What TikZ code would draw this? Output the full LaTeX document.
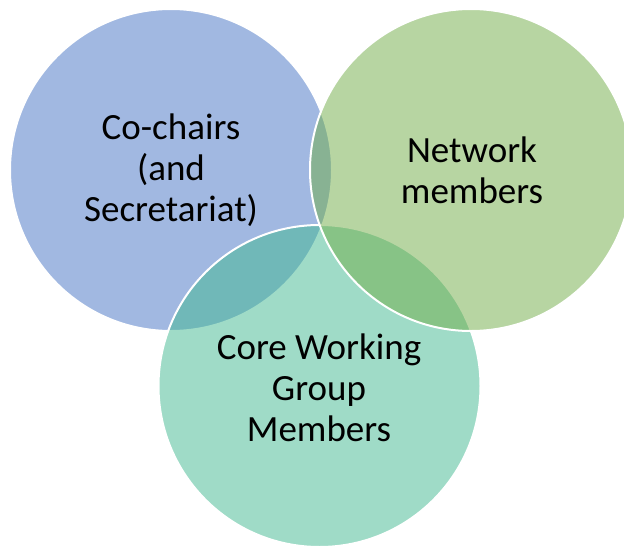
\documentclass[tikz,border=0pt]{standalone}
\usepackage{fontspec}
\setmainfont{Carlito}
\definecolor{cblue}{HTML}{4472C4}
\definecolor{cgreen}{HTML}{70AD47}
\definecolor{cteal}{HTML}{41B991}
\begin{document}
\begin{tikzpicture}[x=1pt,y=-1pt,
  venn/.style={fill opacity=0.5,draw=white,line width=2pt,draw opacity=1},
  lbl/.style={align=center,text=black,font=\fontsize{37}{41}\selectfont,inner sep=0pt}]
\useasboundingbox (0,0) rectangle (624,546);
\clip (0,0) rectangle (624,546);
\fill[white] (0,0) rectangle (624,546);
\path[venn,fill=cblue] (171,170) circle[radius=161];
\path[venn,fill=cteal] (319.5,386) circle[radius=161];
\path[venn,fill=cgreen] (471,170) circle[radius=161];
\node[lbl] (cochairs) at (171,170) {Co-chairs\\(and\\Secretariat)};
\node[lbl] (network) at (472,170) {Network\\members};
\node[lbl] (core) at (319,388) {Core Working\\Group\\Members};
\end{tikzpicture}
\end{document}
